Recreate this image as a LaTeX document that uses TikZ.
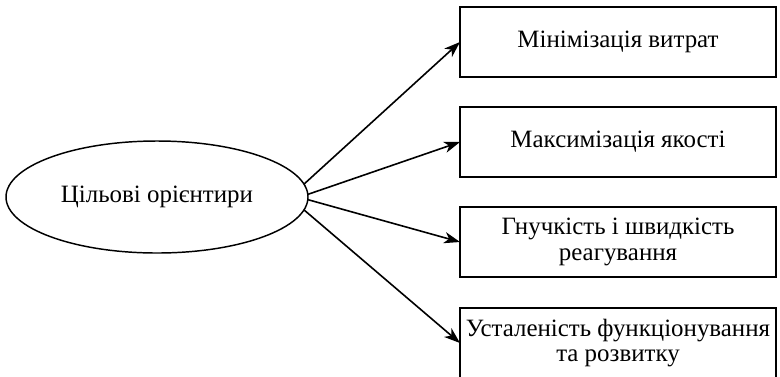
\documentclass[tikz,border=0pt]{standalone}
\usepackage{fontspec}
\setmainfont{Liberation Serif}
\usetikzlibrary{shapes.geometric,arrows.meta}
\begin{document}
\begin{tikzpicture}[x=0.75pt,y=-0.75pt,
  every node/.style={font=\fontsize{18.7pt}{19pt}\selectfont,align=center,inner sep=0pt,outer sep=0pt},
  goal/.style={ellipse,draw,line width=1.1pt,minimum width=226.5pt,minimum height=84pt},
  aim/.style={rectangle,draw,line width=1.4pt,minimum width=237pt,minimum height=52.5pt},
  link/.style={draw,line width=1.2pt,-{Stealth[length=12pt,width=8.5pt,inset=3.5pt]}}]
\useasboundingbox (0,0) rectangle (780,376);
\clip (0,0) rectangle (780,376);

\node[goal] (g) at (157,197) {Цільові орієнтири};

\node[aim] (a1) at (618,42)  {Мінімізація витрат};
\node[aim] (a2) at (618,142) {Максимізація якості};
\node[aim] (a3) at (618,242) {Гнучкість і швидкість\\реагування};
\node[aim] (a4) at (618,343) {Усталеність функціонування\\та розвитку};

\draw[link] (g.5)  -- (a1.west);
\draw[link] (g.1)  -- (a2.west);
\draw[link] (g.-1) -- (a3.west);
\draw[link] (g.-5) -- (a4.west);
\end{tikzpicture}
\end{document}
